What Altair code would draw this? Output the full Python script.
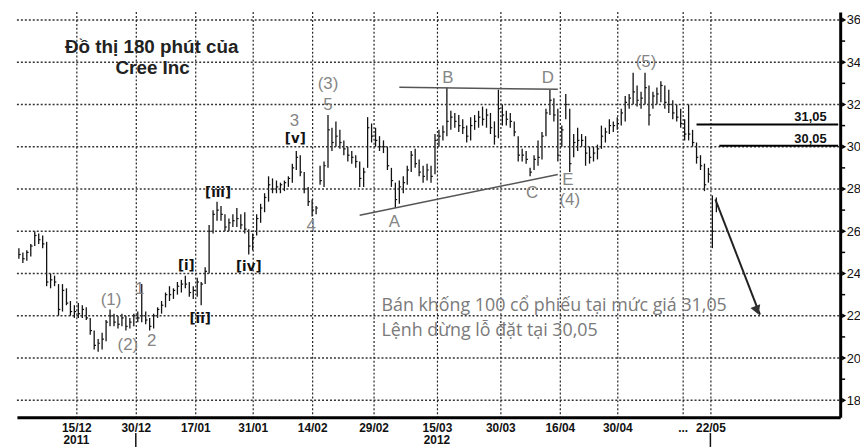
import altair as alt
import pandas as pd

# ---------------- data ----------------
highs = [25.2, 25.0, 25.1, 25.4, 26.0, 25.9, 25.8, 25.5, 24.0, 23.9,
         23.5, 23.5, 23.3, 22.7, 22.5, 22.6, 22.5, 22.4, 21.9, 21.3,
         20.9, 21.2, 21.8, 22.3, 22.1, 22.0, 22.1, 22.0, 21.9, 22.1,
         22.2, 23.5, 22.2, 21.9, 22.1, 22.4, 22.7, 23.1, 23.4, 23.3,
         23.6, 23.7, 23.9, 23.6, 23.4, 23.8, 23.6, 24.3, 26.3, 27.0,
         27.4, 27.2, 26.8, 26.6, 26.8, 27.1, 26.8, 26.9, 26.1, 25.9,
         26.8, 27.3, 27.8, 28.6, 28.5, 28.4, 28.3, 28.4, 28.6, 29.2,
         29.8, 29.6, 28.8, 28.1, 27.5, 27.2, 29.1, 29.3, 31.5, 30.9,
         31.2, 30.8, 30.3, 30.0, 29.8, 29.6, 29.3, 29.0, 31.4, 31.1,
         30.9, 30.5, 30.3, 30.0, 29.0, 28.3, 28.4, 28.6, 29.1, 29.8,
         29.9, 29.4, 29.1, 29.2, 29.1, 30.6, 30.8, 31.0, 32.8, 31.7,
         31.6, 31.5, 31.3, 31.0, 31.4, 31.5, 31.7, 31.9, 31.8, 31.6,
         31.2, 32.7, 32.0, 31.7, 31.6, 31.2, 30.5, 29.9, 29.8, 29.0,
         29.6, 30.3, 30.7, 31.8, 32.7, 32.3, 31.8, 31.0, 32.5, 31.8,
         30.6, 30.9, 30.6, 30.5, 30.0, 30.0, 30.1, 31.0, 30.9, 31.3,
         31.2, 31.4, 31.8, 32.4, 32.5, 33.5, 32.9, 32.6, 33.5, 32.9,
         32.6, 32.8, 33.1, 32.9, 32.7, 32.2, 32.0, 31.8, 31.3, 32.0,
         30.8, 30.2, 29.6, 29.2, 29.0, 27.7, 27.6]
lows = [24.7, 24.5, 24.6, 24.8, 25.3, 25.4, 25.2, 23.4, 23.3, 23.4,
        22.0, 22.2, 22.5, 22.0, 21.9, 21.9, 21.9, 21.8, 21.1, 20.4,
        20.3, 20.4, 20.8, 21.5, 21.5, 21.4, 21.5, 21.3, 21.4, 21.5,
        21.7, 21.7, 21.6, 21.3, 21.4, 21.9, 22.1, 22.4, 22.7, 22.8,
        23.0, 23.1, 23.3, 22.9, 22.8, 22.9, 22.5, 23.5, 24.0, 25.9,
        26.5, 26.5, 26.0, 26.0, 26.2, 26.2, 26.1, 25.9, 24.9, 25.1,
        25.8, 26.4, 26.9, 27.4, 27.8, 27.8, 27.8, 27.9, 28.1, 28.3,
        28.9, 28.6, 27.8, 27.2, 26.7, 26.8, 28.2, 28.1, 29.0, 29.8,
        30.0, 29.9, 29.6, 29.3, 29.2, 29.0, 28.1, 28.1, 29.0, 30.2,
        30.0, 29.8, 29.7, 28.9, 28.1, 27.1, 27.3, 27.8, 28.2, 28.8,
        29.0, 28.6, 28.3, 28.4, 28.3, 28.7, 30.0, 30.3, 30.5, 30.8,
        30.9, 30.7, 30.6, 30.2, 30.3, 30.8, 30.9, 31.0, 30.9, 30.6,
        30.1, 30.4, 31.0, 31.0, 30.9, 30.5, 29.3, 29.3, 29.2, 28.6,
        28.9, 29.1, 29.4, 30.5, 31.5, 31.2, 29.3, 30.0, 31.3, 28.8,
        29.5, 29.8, 30.0, 29.1, 29.2, 29.3, 29.4, 29.9, 30.2, 30.6,
        30.7, 30.8, 31.0, 31.2, 31.8, 32.0, 31.9, 31.8, 32.0, 31.0,
        31.8, 32.0, 32.1, 31.8, 31.6, 31.3, 31.2, 30.9, 30.3, 30.3,
        30.0, 29.2, 28.9, 27.9, 28.3, 25.2, 26.9]
closes = [24.9, 24.7, 25.0, 25.3, 25.8, 25.6, 25.4, 23.6, 23.7, 23.6,
          22.3, 23.2, 22.6, 22.2, 22.2, 22.1, 22.3, 21.9, 21.3, 20.6,
          20.7, 20.9, 21.7, 22.0, 21.7, 21.6, 21.9, 21.5, 21.7, 22.0,
          21.9, 22.0, 21.8, 21.5, 22.0, 22.3, 22.5, 23.0, 23.0, 23.2,
          23.4, 23.5, 23.5, 23.1, 23.2, 23.6, 23.5, 24.1, 26.0, 26.8,
          27.0, 26.8, 26.2, 26.4, 26.5, 26.6, 26.3, 26.1, 25.3, 25.7,
          26.6, 27.1, 27.6, 28.2, 28.0, 28.1, 28.2, 28.3, 28.5, 29.0,
          29.5, 28.8, 28.0, 27.4, 27.0, 27.1, 28.4, 29.1, 30.8, 30.2,
          30.5, 30.2, 29.9, 29.6, 29.5, 29.3, 28.5, 28.8, 30.9, 30.5,
          30.3, 30.0, 30.0, 29.1, 28.4, 27.5, 28.1, 28.3, 28.9, 29.6,
          29.2, 28.8, 28.6, 28.9, 28.6, 30.3, 30.5, 30.7, 31.2, 31.4,
          31.2, 31.0, 30.9, 30.5, 31.0, 31.2, 31.4, 31.3, 31.5, 30.9,
          30.5, 31.8, 31.5, 31.3, 31.2, 30.7, 29.6, 29.6, 29.4, 28.8,
          29.4, 29.5, 30.5, 31.6, 32.2, 31.5, 29.6, 30.8, 32.0, 29.2,
          30.2, 30.3, 30.3, 29.7, 29.5, 29.7, 29.9, 30.5, 30.7, 31.0,
          31.0, 31.1, 31.6, 32.1, 32.3, 32.6, 32.2, 32.3, 32.8, 31.5,
          32.4, 32.5, 32.9, 32.1, 32.0, 31.6, 31.4, 31.1, 30.6, 30.6,
          30.2, 29.5, 29.1, 28.2, 28.7, 26.0, 27.2]

price_ticks = [18, 20, 22, 24, 26, 28, 30, 32, 34, 36]
minor_ticks = [19, 21, 23, 25, 27, 29, 31, 33, 35]
date_tick_pos = [14.5, 29.5, 44.5, 59, 74, 89.5, 105.5, 121.5, 136.5, 151, 167.5, 174.5]
date_tick_lab = ["15/12", "30/12", "17/01", "31/01", "14/02", "29/02",
                 "15/03", "30/03", "16/04", "30/04", "...", "22/05"]
year_pos = [14.5, 105.5]
year_lab = ["2011", "2012"]
year_marks = [29.5, 174.5]

wave_text = ["(1)", "(2)", "1", "2", "3", "4", "(3)", "5", "A", "B", "C", "D", "E", "(4)", "(5)"]
wave_x = [23.25, 27.5, 30.5, 33.5, 69.5, 73.75, 78, 78, 94.75, 108.25, 129.5, 133.5, 138.5, 139, 158.25]
wave_y = [22.73, 20.62, 23.25, 20.81, 31.22, 26.25, 32.95, 31.97, 26.44, 33.23, 27.80, 33.23, 28.41, 27.47, 34.03]

bracket_text = ["[i]", "[ii]", "[iii]", "[iv]", "[v]"]
bracket_x = [42.25, 45.75, 50.25, 58, 69.75]
bracket_y = [24.42, 21.89, 27.84, 24.37, 30.42]

title_text = ["Đồ thị 180 phút của", "Cree Inc"]
title_x = [33.5, 33.75]
title_y = [34.73, 33.70]

note_text = ["Bán khống 100 cổ phiếu tại mức giá 31,05", "Lệnh dừng lỗ đặt tại 30,05"]
note_x = [91.5, 91.5]
note_y = [22.45, 21.27]

level_values = [31.05, 30.05]
level_start = [171, 176.75]
level_end = [206.75, 206.75]
level_text = ["31,05", "30,05"]
level_label_x = [199.75, 199.75]
level_label_y = [31.40, 30.37]

trend_id = ["top", "top", "bottom", "bottom"]
trend_x = [96, 136, 86, 136]
trend_y = [32.81, 32.72, 26.76, 28.69]

arrow_x = [175.75, 187.0]
arrow_y = [27.51, 22.05]
arrow_head_x = [186.25]
arrow_head_y = [22.26]

# ---------------- chart ----------------
W, H = 831, 409
X_DOMAIN = [-0.5, 207.25]
xs = alt.Scale(domain=X_DOMAIN, nice=False, zero=False)
ys = alt.Scale(domain=[17.2, 36.375], nice=False, zero=False)

FONT = "Liberation Sans"

bars_df = pd.DataFrame({"i": list(range(len(highs))), "high": highs, "low": lows, "close": closes})
bars_df["ic"] = bars_df["i"] + 0.45

label_expr = " : ".join(
    "datum.value == %s ? '%s'" % (p, lab) for p, lab in zip(date_tick_pos, date_tick_lab)
) + " : ''"

x_axis = alt.Axis(values=date_tick_pos, labelExpr=label_expr, grid=False,
                  domainWidth=3, domainColor="#000",
                  tickSize=0, labelPadding=5, labelFont=FONT, labelFontSize=12,
                  labelFontWeight="bold", labelColor="#111",
                  labelOverlap=False, labelFlush=False, title=None)
y_axis = alt.Axis(orient="right", values=price_ticks, grid=False,
                  domainWidth=3, domainColor="#000",
                  tickSize=0, labelPadding=6, labelFont=FONT, labelFontSize=13,
                  labelColor="#111", labelFlush=False, title=None)


def X(field):
    return alt.X(field, scale=xs, title=None)


def Y(field):
    return alt.Y(field, scale=ys, title=None)


# horizontal dotted grid, drawn a little heavier so it survives rasterisation
hg_df = pd.DataFrame({"hy": price_ticks,
                      "hx1": [X_DOMAIN[0]] * len(price_ticks),
                      "hx2": [X_DOMAIN[1]] * len(price_ticks)})
hgrid = alt.Chart(hg_df).mark_rule(
    color="#333", strokeWidth=1.6, strokeDash=[2, 2]).encode(
    x=X("hx1:Q"), x2="hx2:Q", y=Y("hy:Q"))
vgrid = alt.Chart(pd.DataFrame({"vx": date_tick_pos})).mark_rule(
    color="#222", strokeWidth=1.2, strokeDash=[2, 2], xOffset=0.5).encode(
    x=X("vx:Q"), y=alt.value(0), y2=alt.value(H))

bars = alt.Chart(bars_df).mark_rule(color="#111", strokeWidth=1.3).encode(
    x=alt.X("i:Q", scale=xs, axis=x_axis),
    y=alt.Y("low:Q", scale=ys, axis=y_axis),
    y2="high:Q",
)
close_ticks = alt.Chart(bars_df).mark_rule(color="#111", strokeWidth=1.2).encode(
    x=X("i:Q"), x2="ic:Q", y=Y("close:Q"),
)

trend_df = pd.DataFrame({"id": trend_id, "x": trend_x, "y": trend_y})
trends = alt.Chart(trend_df).mark_line(color="#555", strokeWidth=1.5).encode(
    x=X("x:Q"), y=Y("y:Q"), detail="id:N",
)

lev_df = pd.DataFrame({"v": level_values, "x1": level_start, "x2": level_end,
                       "t": level_text, "lx": level_label_x, "ly": level_label_y})
levels = alt.Chart(lev_df).mark_rule(color="#000", strokeWidth=2).encode(
    x=X("x1:Q"), x2="x2:Q", y=Y("v:Q"),
)
level_labels = alt.Chart(lev_df).mark_text(font=FONT, fontSize=13, fontWeight="bold",
                                           color="#111", baseline="middle").encode(
    x=X("lx:Q"), y=Y("ly:Q"), text="t:N",
)

arrow_df = pd.DataFrame({"x1": [arrow_x[0]], "x2": [arrow_x[1]], "y1": [arrow_y[0]], "y2": [arrow_y[1]]})
arrow_line = alt.Chart(arrow_df).mark_rule(color="#222", strokeWidth=2).encode(
    x=X("x1:Q"), x2="x2:Q", y=Y("y1:Q"), y2="y2:Q",
)
head_df = pd.DataFrame({"x": arrow_head_x, "y": arrow_head_y})
arrow_head = alt.Chart(head_df).mark_point(shape="triangle-up", filled=True, color="#333",
                                           opacity=1, size=110, angle=159).encode(
    x=X("x:Q"), y=Y("y:Q"),
)

wave_df = pd.DataFrame({"t": wave_text, "x": wave_x, "y": wave_y})
waves = alt.Chart(wave_df).mark_text(font=FONT, fontSize=17, color="#858585",
                                     baseline="middle").encode(
    x=X("x:Q"), y=Y("y:Q"), text="t:N",
)

br_df = pd.DataFrame({"t": bracket_text, "x": bracket_x, "y": bracket_y})
brackets = alt.Chart(br_df).mark_text(font="Liberation Sans Narrow, DejaVu Sans Condensed, sans-serif",
                                      fontSize=15, fontWeight="bold", color="#111",
                                      baseline="middle").encode(
    x=X("x:Q"), y=Y("y:Q"), text="t:N",
)

title_df = pd.DataFrame({"t": title_text, "x": title_x, "y": title_y})
titles = alt.Chart(title_df).mark_text(font=FONT, fontSize=19, fontWeight="bold",
                                       color="#222", baseline="middle").encode(
    x=X("x:Q"), y=Y("y:Q"), text="t:N",
)

note_df = pd.DataFrame({"t": note_text, "x": note_x, "y": note_y})
notes = alt.Chart(note_df).mark_text(font="Open Sans", fontSize=18, color="#7a7a7a",
                                     align="left", baseline="middle").encode(
    x=X("x:Q"), y=Y("y:Q"), text="t:N",
)

ptick_df = pd.DataFrame({"v": price_ticks})
ptick_marks = alt.Chart(ptick_df).mark_point(shape="triangle-right", filled=True, color="#000",
                                             opacity=1, size=22).encode(
    x=alt.value(W + 4), y=Y("v:Q"),
)
mtick_df = pd.DataFrame({"v": minor_ticks})
mtick_marks = alt.Chart(mtick_df).mark_rule(color="#000", strokeWidth=1.5).encode(
    x=alt.value(W), x2=alt.value(W + 5), y=Y("v:Q"),
)

yl_df = pd.DataFrame({"x": year_pos, "t": year_lab})
year_labels = alt.Chart(yl_df).mark_text(font=FONT, fontSize=12, fontWeight="bold",
                                         color="#111", baseline="top").encode(
    x=X("x:Q"), y=alt.value(H + 18), text="t:N",
)

ym_df = pd.DataFrame({"x": year_marks})
year_ticks = alt.Chart(ym_df).mark_rule(color="#111", strokeWidth=1.5).encode(
    x=X("x:Q"), y=alt.value(H + 16), y2=alt.value(H + 30),
)

chart = alt.layer(
    bars, hgrid, vgrid, close_ticks, trends, levels, level_labels, arrow_line, arrow_head,
    waves, brackets, titles, notes, ptick_marks, mtick_marks, year_labels, year_ticks,
).properties(
    width=W, height=H,
    autosize=alt.AutoSizeParams(type="none"),
    padding={"left": 9, "top": 2, "right": 20, "bottom": 28},
    background="white",
).configure_view(stroke=None)

chart.save("out.html", embed_options={"renderer": "svg", "actions": False})
